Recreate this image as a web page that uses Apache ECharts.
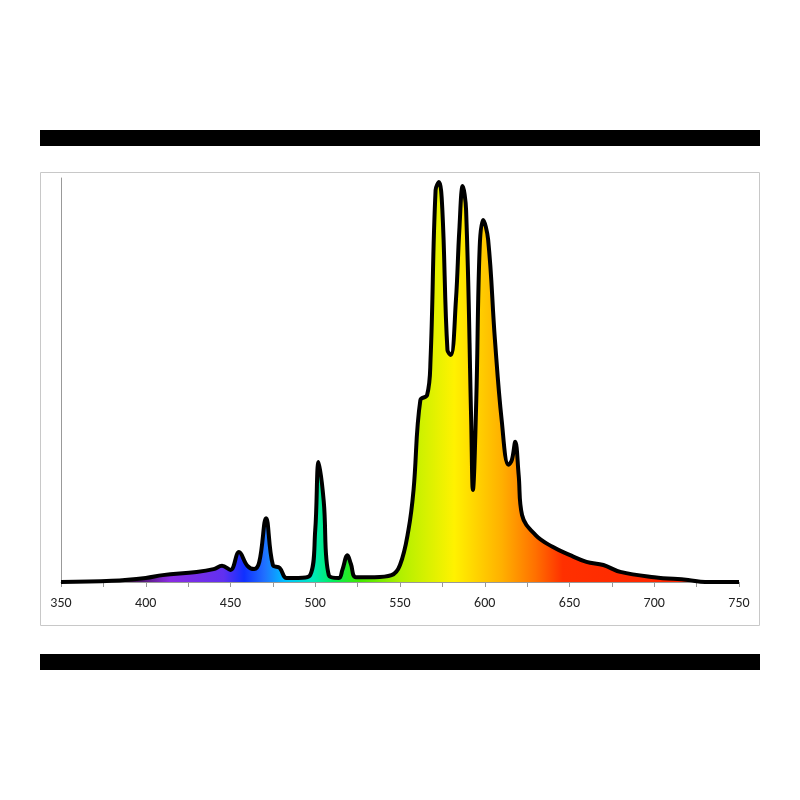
<!DOCTYPE html>
<html><head><meta charset="utf-8">
<script src="https://cdn.jsdelivr.net/npm/echarts@6/dist/echarts.min.js"></script>
<style>html,body{margin:0;padding:0;background:#fff}#c{width:800px;height:800px}</style>
</head><body><div id="c"></div>
<script>
const wavelengths=[350,380,400,410,430,440,445,450,455,460,464,467,471,475,479,483,490,497,500,502,505,508,514,516,519,521,524,535,545,550,555,558,562,566,568,571,573,575,578,580,583,585,587,589,592,593,595,597,599,602,606,610,614,616,618,620,622,630,640,650,660,670,680,700,720,730,750];
const intensity=[0,0.3,1,1.7,2.5,3.2,4,3,7.4,4,3.2,5,15.8,4.2,3.5,1,1,1.7,12.9,29.7,20,1.7,1,3,6.6,4.5,1.2,1.2,1.7,4.2,12.9,22.8,45,46.3,54.9,97,99,92,57.4,56.2,69.8,87.1,98,92,40,22.8,45,82.7,89.6,84.7,60,40,29,30.2,34.7,26.5,16.6,11.6,8.7,6.7,5,4.2,2.5,1.2,0.5,0,0];
const xTicks=[350,400,450,500,550,600,650,700,750];
const data=wavelengths.map((w,i)=>[w,intensity[i]]);
const chart=echarts.init(document.getElementById('c'));
chart.setOption({
  animation:false,
  graphic:[
    {type:'rect',shape:{x:40,y:130,width:720,height:16},style:{fill:'#000'}},
    {type:'rect',shape:{x:40,y:654,width:720,height:16},style:{fill:'#000'}},
    {type:'rect',shape:{x:40.5,y:172.5,width:719,height:453},style:{fill:'none',stroke:'#c8c8c8',lineWidth:1}}
  ],
  grid:{left:61,right:61,top:178,bottom:218},
  xAxis:{type:'value',min:350,max:750,interval:25,
    axisLine:{lineStyle:{color:'#999'}},
    axisTick:{show:true,length:5,lineStyle:{color:'#999'}},
    splitLine:{show:false},
    axisLabel:{color:'#222',fontSize:14,fontFamily:'Carlito, Calibri, Open Sans, sans-serif',margin:14,
      formatter:v=>xTicks.includes(v)?String(v):''}},
  yAxis:{type:'value',min:0,max:100,axisLine:{show:true,lineStyle:{color:'#999'}},axisTick:{show:false},axisLabel:{show:false},splitLine:{show:false}},
  series:[{type:'line',data:data,smooth:0.4,symbol:'none',
    lineStyle:{color:'#000',width:4},
    areaStyle:{opacity:1,color:{type:'linear',x:0,y:0,x2:1,y2:0,colorStops:[
      {offset:0,color:'#000000'},
      {offset:0.1,color:'#3a1040'},
      {offset:0.16,color:'#8a2be2'},
      {offset:0.24,color:'#6030f0'},
      {offset:0.27,color:'#1030ff'},
      {offset:0.3,color:'#2070ff'},
      {offset:0.33,color:'#00c0ff'},
      {offset:0.37,color:'#00e8c0'},
      {offset:0.4,color:'#00ee60'},
      {offset:0.44,color:'#40e800'},
      {offset:0.5,color:'#b0f000'},
      {offset:0.58,color:'#fff200'},
      {offset:0.65,color:'#ffb000'},
      {offset:0.7,color:'#ff7000'},
      {offset:0.74,color:'#ff3000'},
      {offset:1,color:'#ff2000'}
    ]}}}]
});
</script></body></html>
